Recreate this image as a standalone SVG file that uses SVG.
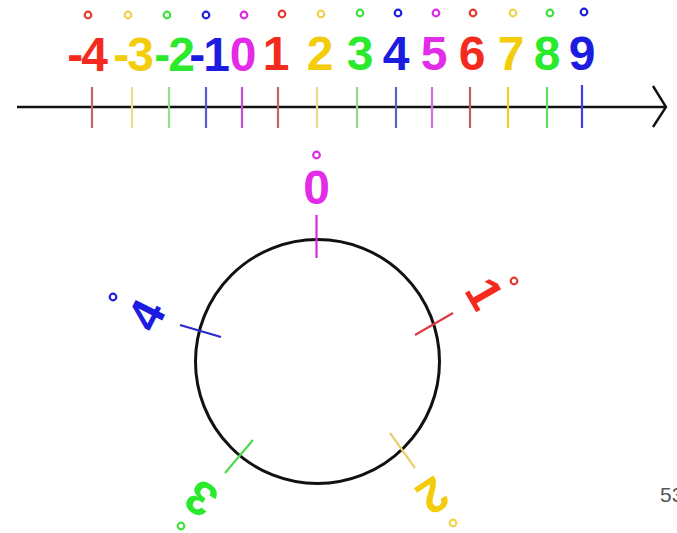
<svg xmlns="http://www.w3.org/2000/svg" width="677" height="533" viewBox="0 0 677 533">
<style>
.num{font-family:"Liberation Sans",Arial,sans-serif;font-weight:bold;font-size:48px;text-anchor:middle}
.neg{text-anchor:end;letter-spacing:-2px}
.dot{fill:none;stroke-width:2.2}
.tk{stroke-width:2.2}
.r{fill:#f52a1e}.y{fill:#f3cc0c}.g{fill:#2bea2b}.b{fill:#1c1ce0}.m{fill:#e22ce8}
.rs{stroke:#e53a30}.ys{stroke:#eed24a}.gs{stroke:#3ee03e}.bs{stroke:#2020dd}.ms{stroke:#dc2ce4}
</style>
<g id="connectors">
<line x1="17" y1="107" x2="666" y2="107" stroke="#111" stroke-width="2.6"/>
<polyline points="653,86 666,107 653,127" fill="none" stroke="#111" stroke-width="2.4"/>
</g>
<g id="n-4"><line class="tk" x1="92" y1="87" x2="92" y2="128" stroke="#c86464"/><circle class="dot rs" cx="88" cy="15" r="3.3"/><text class="num r neg" x="106" y="71">-4</text></g>
<g id="n-3"><line class="tk" x1="132" y1="87" x2="132" y2="128" stroke="#f0d890"/><circle class="dot ys" cx="128" cy="15" r="3.3"/><text class="num y neg" x="152" y="71">-3</text></g>
<g id="n-2"><line class="tk" x1="169" y1="87" x2="169" y2="128" stroke="#90e090"/><circle class="dot gs" cx="167" cy="15" r="3.3"/><text class="num g neg" x="193" y="71">-2</text></g>
<g id="n-1"><line class="tk" x1="206" y1="87" x2="206" y2="128" stroke="#5a5ad0"/><circle class="dot bs" cx="206" cy="15" r="3.3"/><text class="num b neg" x="228" y="71">-1</text></g>
<g id="n0"><line class="tk" x1="242" y1="87" x2="242" y2="128" stroke="#c050d8"/><circle class="dot ms" cx="244" cy="15" r="3.3"/><text class="num m" x="243" y="71">0</text></g>
<g id="n1"><line class="tk" x1="278" y1="87" x2="278" y2="128" stroke="#c06868"/><circle class="dot rs" cx="282" cy="14" r="3.3"/><text class="num r" x="276" y="70">1</text></g>
<g id="n2"><line class="tk" x1="317" y1="87" x2="317" y2="128" stroke="#f0d890"/><circle class="dot ys" cx="321" cy="14" r="3.3"/><text class="num y" x="320" y="70">2</text></g>
<g id="n3"><line class="tk" x1="357" y1="87" x2="357" y2="128" stroke="#90d890"/><circle class="dot gs" cx="360" cy="13" r="3.3"/><text class="num g" x="360" y="70">3</text></g>
<g id="n4"><line class="tk" x1="396" y1="87" x2="396" y2="128" stroke="#6060c0"/><circle class="dot bs" cx="398" cy="13" r="3.3"/><text class="num b" x="396" y="70">4</text></g>
<g id="n5"><line class="tk" x1="432" y1="87" x2="432" y2="128" stroke="#d070e0"/><circle class="dot ms" cx="436" cy="13" r="3.3"/><text class="num m" x="434" y="70">5</text></g>
<g id="n6"><line class="tk" x1="470" y1="87" x2="470" y2="128" stroke="#c06060"/><circle class="dot rs" cx="473" cy="13" r="3.3"/><text class="num r" x="472" y="70">6</text></g>
<g id="n7"><line class="tk" x1="508" y1="87" x2="508" y2="128" stroke="#f0d020"/><circle class="dot ys" cx="513" cy="13" r="3.3"/><text class="num y" x="511" y="70">7</text></g>
<g id="n8"><line class="tk" x1="547" y1="87" x2="547" y2="128" stroke="#60e060"/><circle class="dot gs" cx="550" cy="13" r="3.3"/><text class="num g" x="547" y="70">8</text></g>
<g id="n9"><line class="tk" x1="582" y1="85" x2="582" y2="128" stroke="#4040e0"/><circle class="dot bs" cx="584" cy="12" r="3.3"/><text class="num b" x="582" y="70">9</text></g>
<g id="clock">
<circle cx="317.5" cy="361.5" r="122" fill="none" stroke="#111" stroke-width="3"/>
</g>
<g id="c0"><line class="tk" x1="316.5" y1="215" x2="316.5" y2="258" stroke="#d22ce0"/><circle class="dot ms" cx="316.5" cy="155" r="3.3"/><text class="num m" x="316.5" y="204">0</text></g>
<g id="c1"><line class="tk" x1="415" y1="335" x2="453" y2="313" stroke="#e03a44"/><circle class="dot rs" cx="514" cy="281" r="3.3"/><text class="num r" transform="translate(486,295) rotate(60)" x="-2" y="17">1</text></g>
<g id="c2"><line class="tk" x1="390" y1="433" x2="415" y2="468" stroke="#e8d070"/><circle class="dot ys" cx="453" cy="523" r="3.3"/><text class="num y" transform="translate(433,496) rotate(146)" x="0" y="17">2</text></g>
<g id="c3"><line class="tk" x1="225" y1="473" x2="253" y2="440" stroke="#50d850"/><circle class="dot gs" cx="181" cy="526" r="3.3"/><text class="num g" transform="translate(201,499) rotate(214)" x="0" y="17">3</text></g>
<g id="c4"><line class="tk" x1="180" y1="325" x2="221" y2="337" stroke="#2828d0"/><circle class="dot bs" cx="113" cy="297" r="3.3"/><text class="num b" transform="translate(146,315) rotate(-63)" x="0" y="17">4</text></g>
<text x="660" y="502" font-family="Liberation Sans,Arial,sans-serif" font-size="21" fill="#555">53</text>
</svg>
